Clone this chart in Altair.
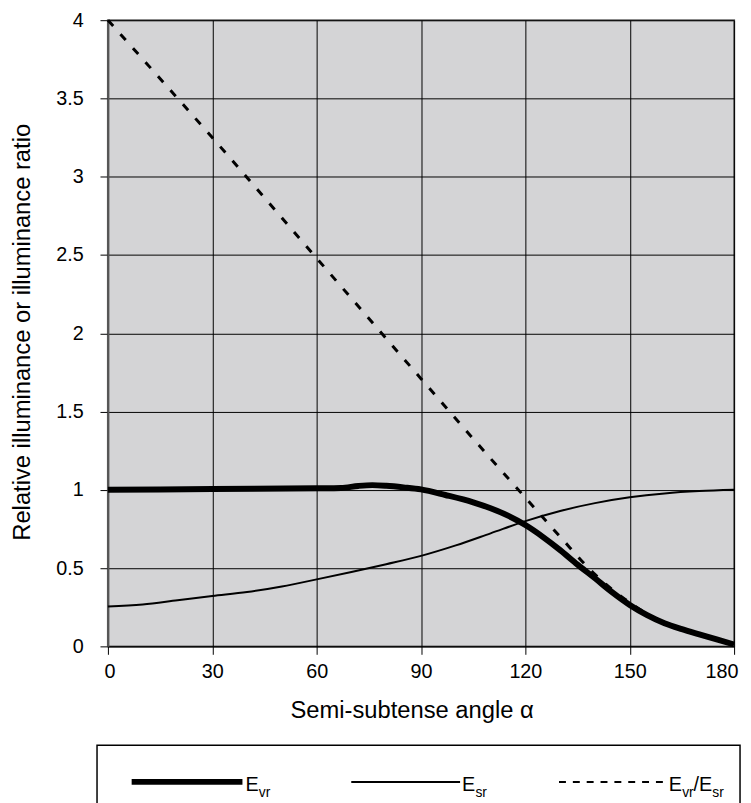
import altair as alt
import pandas as pd

FONT = "Liberation Sans"

# ---- data ----
angle_vr = [0, 30, 60, 67, 72, 76, 80, 85, 90, 97, 105, 110, 115, 120, 125, 130, 135, 140, 145, 150, 155, 160, 165, 170, 175, 180]
e_vr = [1.0, 1.005, 1.01, 1.012, 1.025, 1.03, 1.026, 1.016, 1.003, 0.967, 0.92, 0.882, 0.835, 0.775, 0.70, 0.615, 0.522, 0.435, 0.345, 0.265, 0.2, 0.148, 0.11, 0.077, 0.045, 0.012]

angle_sr = [0, 10, 20, 30, 40, 50, 60, 70, 80, 90, 100, 110, 120, 130, 140, 150, 160, 170, 180]
e_sr = [0.255, 0.268, 0.295, 0.322, 0.347, 0.383, 0.428, 0.475, 0.525, 0.578, 0.645, 0.722, 0.8, 0.865, 0.915, 0.952, 0.977, 0.992, 1.0]

angle_ratio = [0, 30, 60, 90, 110, 120, 130, 140, 150, 160, 170, 180]
ratio = [4.0, 3.25, 2.48, 1.71, 1.2, 0.95, 0.7, 0.46, 0.28, 0.15, 0.08, 0.012]

x_ticks = [0, 30, 60, 90, 120, 150, 180]
y_ticks = [0, 0.5, 1, 1.5, 2, 2.5, 3, 3.5, 4]

df_vr = pd.DataFrame({"angle": angle_vr, "value": e_vr})
df_sr = pd.DataFrame({"angle": angle_sr, "value": e_sr})
df_ratio = pd.DataFrame({"angle": angle_ratio, "value": ratio})
one = pd.DataFrame({"k": [1]})

x_scale = alt.Scale(domain=[0, 180], nice=False, zero=False)
y_scale = alt.Scale(domain=[0, 4], nice=False)

x_axis = alt.Axis(
    values=x_ticks, title="Semi-subtense angle α", grid=True, gridColor="black",
    gridWidth=1, gridOpacity=1, tickSize=8, tickColor="black", tickWidth=1,
    labelFontSize=20, labelFont=FONT, labelColor="black", labelPadding=7,
    labelFlush=True, labelFlushOffset=4,
    titleFontSize=24, titleFont=FONT, titleFontWeight="normal", titleColor="black",
    titleX=307, titleY=53, titleBaseline="top", titleAlign="center",
    domain=True, domainColor="black", domainWidth=1,
)
y_axis = alt.Axis(
    values=y_ticks, format="~g", title="Relative illuminance or illuminance ratio", grid=True,
    gridColor="black", gridWidth=1, gridOpacity=1, tickSize=8, tickColor="black",
    tickWidth=1, labelFontSize=20, labelFont=FONT, labelColor="black", labelPadding=17,
    titleFontSize=24, titleFont=FONT, titleFontWeight="normal", titleColor="black",
    titleX=-79, titleY=315, titleBaseline="alphabetic", titleAlign="center", titleAngle=270,
    domain=True, domainColor="#555555", domainWidth=2,
)

def line_layer(df, **mk):
    return alt.Chart(df).mark_line(color="black", interpolate="monotone", **mk).encode(
        x=alt.X("angle:Q", scale=x_scale, axis=x_axis),
        y=alt.Y("value:Q", scale=y_scale, axis=y_axis),
    )

dashed = line_layer(df_ratio, strokeWidth=3, strokeDash=[8, 11])
thin = line_layer(df_sr, strokeWidth=2)
thick = line_layer(df_vr, strokeWidth=6)

# ---- legend (drawn below the plot) ----
LY = 770  # legend line y, relative to plot top
box = alt.Chart(one).mark_rect(fillOpacity=0, stroke="black", strokeWidth=1.5).encode(
    x=alt.value(-11), x2=alt.value(639), y=alt.value(733), y2=alt.value(805)
)

def seg(x1, x2, **mk):
    return alt.Chart(one).mark_rule(color="black", **mk).encode(
        x=alt.value(x1), x2=alt.value(x2), y=alt.value(LY)
    )

def txt(s, x, dy, size):
    return alt.Chart(one).mark_text(
        text=s, align="left", baseline="alphabetic", fontSize=size, font=FONT, color="black"
    ).encode(x=alt.value(x), y=alt.value(LY + dy))

leg = [
    box,
    seg(24, 136, strokeWidth=6),
    txt("E", 139, 9, 20), txt("vr", 152.5, 15, 14),
    seg(246, 356, strokeWidth=2),
    txt("E", 358, 9, 20), txt("sr", 371.5, 15, 14),
    seg(456, 563, strokeWidth=2, strokeDash=[7, 7]),
    txt("E", 567, 9, 20), txt("vr", 580.5, 15, 14), txt("/E", 592, 9, 20), txt("sr", 611, 15, 14),
]

chart = alt.layer(dashed, thin, thick, *leg).properties(
    width=633, height=633,
    autosize="none",
    padding={"left": 101, "top": 8, "right": 9, "bottom": 154},
    background="white",
).configure_view(
    fill="#d4d4d6", stroke="#666666", strokeWidth=2
)

chart.save("out.html", embed_options={"renderer": "svg", "actions": False})
